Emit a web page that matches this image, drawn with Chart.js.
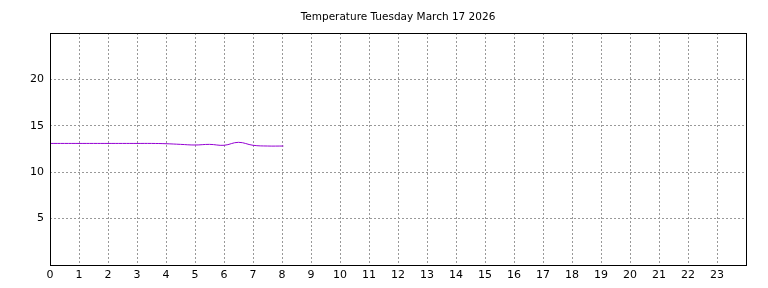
<!DOCTYPE html>
<html>
<head>
<meta charset="utf-8">
<script src="https://cdn.jsdelivr.net/npm/chart.js@4/dist/chart.umd.min.js"></script>
<style>
  html, body { margin: 0; padding: 0; background: #fff; }
  #wrap { width: 768px; height: 288px; }
</style>
</head>
<body>
<div id="wrap"><canvas id="tempChart"></canvas></div>
<script>
// hours since midnight and temperature readings
const hours = [0, 0.5, 1, 1.5, 2, 2.5, 3, 3.5, 4, 4.5, 5, 5.5, 6, 6.5, 7, 7.5, 8.05];
const temps = [13.1, 13.1, 13.1, 13.1, 13.1, 13.1, 13.1, 13.1, 13.07, 13.0, 12.93, 13.0, 12.9, 13.22, 12.9, 12.82, 12.82];
const xTicks = [0, 1, 2, 3, 4, 5, 6, 7, 8, 9, 10, 11, 12, 13, 14, 15, 16, 17, 18, 19, 20, 21, 22, 23];
const yTicks = [5, 10, 15, 20];
const chartTitle = "Temperature Tuesday March 17 2026";

const points = hours.map((h, i) => ({ x: h, y: temps[i] }));

// black frame around the plot area + title centred over it
const frame = {
  id: "frame",
  afterDraw(chart) {
    const a = chart.chartArea;
    const ctx = chart.ctx;
    ctx.save();
    ctx.strokeStyle = "#000";
    ctx.lineWidth = 1;
    const l = Math.round(a.left) + 0.5, t = Math.round(a.top) + 0.5;
    const r = Math.round(a.right) + 0.5, b = Math.round(a.bottom) + 0.5;
    ctx.strokeRect(l, t, r - l, b - t);
    ctx.fillStyle = "#000";
    ctx.font = "10.5px 'DejaVu Sans', sans-serif";
    ctx.textAlign = "center";
    ctx.textBaseline = "middle";
    ctx.fillText(chartTitle, (a.left + a.right) / 2, 17);
    ctx.restore();
  }
};

Chart.defaults.font.family = "'DejaVu Sans', sans-serif";
Chart.defaults.font.size = 11;
Chart.defaults.color = "#000";

const ctx = document.getElementById("tempChart");
new Chart(ctx, {
  type: "line",
  data: {
    datasets: [
      {
        label: "Temperature",
        data: points,
        borderColor: "#9400d3",
        borderWidth: 1,
        pointRadius: 0,
        tension: 0.4,
        fill: false,
      },
    ],
  },
  options: {
    responsive: true,
    maintainAspectRatio: false,
    animation: false,
    layout: {
      padding: { left: 0, right: 22, top: 33, bottom: 0 },
    },
    scales: {
      x: {
        type: "linear",
        min: 0,
        max: 24,
        afterFit: (s) => { s.height = 23; },
        afterBuildTicks: (s) => { s.ticks = xTicks.map(v => ({ value: v })); },
        ticks: {
          padding: 4,
          maxRotation: 0,
          autoSkip: false,
          callback: (v) => (xTicks.includes(v) ? String(v) : ""),
        },
        grid: {
          color: "#999",
          drawTicks: false,
        },
        border: { display: false, dash: [2, 2] },
      },
      y: {
        min: 0,
        max: 25,
        afterFit: (s) => { s.width = 50; },
        afterBuildTicks: (s) => { s.ticks = yTicks.map(v => ({ value: v })); },
        ticks: {
          padding: 6,
          callback: (v) => (yTicks.includes(v) ? String(v) : ""),
        },
        grid: {
          color: "#999",
          drawTicks: false,
        },
        border: { display: false, dash: [2, 2] },
      },
    },
    plugins: {
      legend: { display: false },
      tooltip: { enabled: false },
      title: { display: false },
    },
  },
  plugins: [frame],
});
</script>
</body>
</html>
